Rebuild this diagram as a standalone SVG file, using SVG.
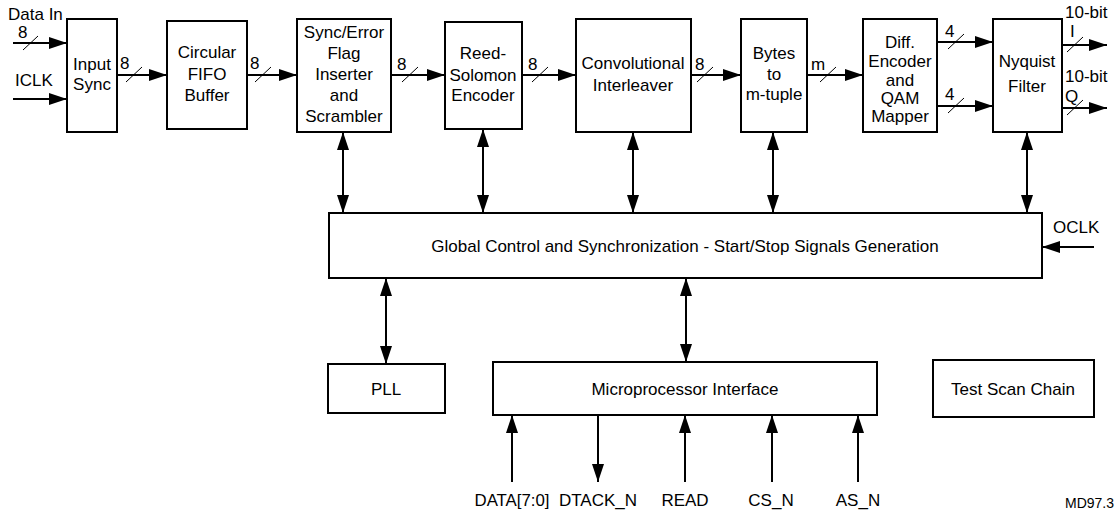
<svg xmlns="http://www.w3.org/2000/svg" width="1118" height="513" viewBox="0 0 1118 513">
<defs>
<marker id="ah" markerUnits="userSpaceOnUse" markerWidth="18" markerHeight="12" refX="18" refY="6" orient="auto-start-reverse">
<path d="M0,0 L18,6 L0,12 z" fill="#000"/>
</marker>
<style>
.box{fill:#fff;stroke:#000;stroke-width:2}
.t{font-family:"Liberation Sans",Arial,sans-serif;font-size:17px;fill:#000;text-anchor:middle}
.l{font-family:"Liberation Sans",Arial,sans-serif;font-size:17px;fill:#000}
.w{stroke:#000;stroke-width:2;fill:none}
.a{stroke:#000;stroke-width:2;fill:none;marker-end:url(#ah)}
.d{stroke:#000;stroke-width:2;fill:none;marker-start:url(#ah);marker-end:url(#ah)}
.s{stroke:#000;stroke-width:1;fill:none}
</style>
</defs>
<rect width="1118" height="513" fill="#fff"/>

<g id="connectors">
<!-- inputs -->
<line class="a" x1="13" y1="43" x2="67" y2="43"/>
<line class="s" x1="23" y1="50" x2="38" y2="36"/>
<line class="a" x1="13" y1="99" x2="67" y2="99"/>
<!-- data path -->
<line class="a" x1="117" y1="75" x2="167" y2="75"/>
<line class="s" x1="126" y1="82" x2="142" y2="67"/>
<line class="a" x1="247" y1="75" x2="297" y2="75"/>
<line class="s" x1="255" y1="82" x2="271" y2="67"/>
<line class="a" x1="391" y1="75" x2="445" y2="75"/>
<line class="s" x1="402" y1="82" x2="418" y2="67"/>
<line class="a" x1="522" y1="75" x2="576" y2="75"/>
<line class="s" x1="532" y1="82" x2="548" y2="67"/>
<line class="a" x1="691" y1="75" x2="741" y2="75"/>
<line class="s" x1="697" y1="82" x2="713" y2="67"/>
<line class="a" x1="807" y1="75" x2="863" y2="75"/>
<line class="s" x1="820" y1="82" x2="836" y2="67"/>
<line class="a" x1="937" y1="42" x2="993" y2="42"/>
<line class="s" x1="948" y1="49" x2="964" y2="34"/>
<line class="a" x1="937" y1="106" x2="993" y2="106"/>
<line class="s" x1="948" y1="113" x2="964" y2="98"/>
<line class="a" x1="1062" y1="45" x2="1107" y2="45"/>
<line class="s" x1="1067" y1="52" x2="1083" y2="37"/>
<line class="a" x1="1062" y1="108" x2="1107" y2="108"/>
<line class="s" x1="1067" y1="115" x2="1083" y2="100"/>
<!-- control bus -->
<line class="d" x1="343" y1="132" x2="343" y2="213"/>
<line class="d" x1="483" y1="129" x2="483" y2="213"/>
<line class="d" x1="633" y1="132" x2="633" y2="213"/>
<line class="d" x1="773" y1="132" x2="773" y2="213"/>
<line class="d" x1="1027" y1="132" x2="1027" y2="213"/>
<line class="a" x1="1094" y1="247" x2="1042" y2="247"/>
<line class="d" x1="386" y1="278" x2="386" y2="364"/>
<line class="d" x1="686" y1="278" x2="686" y2="362"/>
<!-- microprocessor pins -->
<line class="a" x1="512" y1="482" x2="512" y2="415"/>
<line class="a" x1="598" y1="415" x2="598" y2="482"/>
<line class="a" x1="685" y1="482" x2="685" y2="415"/>
<line class="a" x1="772" y1="482" x2="772" y2="415"/>
<line class="a" x1="858" y1="482" x2="858" y2="415"/>
<!-- labels -->
<text class="l" x="8" y="20">Data In</text>
<text class="l" x="18" y="38">8</text>
<text class="l" x="15" y="86">ICLK</text>
<text class="l" x="120" y="69">8</text>
<text class="l" x="250" y="69">8</text>
<text class="l" x="397" y="70">8</text>
<text class="l" x="528" y="70">8</text>
<text class="l" x="695" y="70">8</text>
<text class="l" x="811" y="70">m</text>
<text class="l" x="945" y="37">4</text>
<text class="l" x="945" y="100">4</text>
<text class="l" x="1065" y="18">10-bit</text>
<text class="l" x="1070" y="37">I</text>
<text class="l" x="1065" y="82">10-bit</text>
<text class="l" x="1065" y="102">Q</text>
<text class="l" x="1053" y="233">OCLK</text>
<text class="t" x="512" y="506" textLength="75" lengthAdjust="spacingAndGlyphs">DATA[7:0]</text>
<text class="t" x="598" y="506">DTACK_N</text>
<text class="t" x="685" y="506">READ</text>
<text class="t" x="771" y="506">CS_N</text>
<text class="t" x="858" y="506">AS_N</text>
<text class="l" x="1065" y="508" style="font-size:14px">MD97.3</text>
</g>

<g id="input-sync">
<rect class="box" x="67" y="19" width="50" height="113"/>
<text class="t" x="92" y="70">Input</text>
<text class="t" x="92" y="90">Sync</text>
</g>
<g id="fifo">
<rect class="box" x="167" y="21" width="80" height="108"/>
<text class="t" x="207" y="58">Circular</text>
<text class="t" x="207" y="80">FIFO</text>
<text class="t" x="207" y="101">Buffer</text>
</g>
<g id="sync-error">
<rect class="box" x="297" y="19" width="94" height="113"/>
<text class="t" x="344" y="38">Sync/Error</text>
<text class="t" x="344" y="59">Flag</text>
<text class="t" x="344" y="80">Inserter</text>
<text class="t" x="344" y="101">and</text>
<text class="t" x="344" y="122">Scrambler</text>
</g>
<g id="reed-solomon">
<rect class="box" x="445" y="22" width="77" height="107"/>
<text class="t" x="483" y="59">Reed-</text>
<text class="t" x="483" y="81">Solomon</text>
<text class="t" x="483" y="101">Encoder</text>
</g>
<g id="interleaver">
<rect class="box" x="576" y="19" width="115" height="113"/>
<text class="t" x="633" y="69">Convolutional</text>
<text class="t" x="633" y="91">Interleaver</text>
</g>
<g id="bytes-to-mtuple">
<rect class="box" x="741" y="19" width="66" height="113"/>
<text class="t" x="774" y="59">Bytes</text>
<text class="t" x="774" y="80">to</text>
<text class="t" x="774" y="100">m-tuple</text>
</g>
<g id="qam-mapper">
<rect class="box" x="863" y="19" width="74" height="113"/>
<text class="t" x="900" y="48">Diff.</text>
<text class="t" x="900" y="67">Encoder</text>
<text class="t" x="900" y="86">and</text>
<text class="t" x="900" y="104">QAM</text>
<text class="t" x="900" y="122">Mapper</text>
</g>
<g id="nyquist">
<rect class="box" x="993" y="19" width="69" height="113"/>
<text class="t" x="1027" y="67">Nyquist</text>
<text class="t" x="1027" y="92">Filter</text>
</g>
<g id="global-control">
<rect class="box" x="329" y="213" width="713" height="65"/>
<text class="t" x="685" y="252">Global Control and Synchronization - Start/Stop Signals Generation</text>
</g>
<g id="pll">
<rect class="box" x="328" y="364" width="117" height="49"/>
<text class="t" x="386" y="395">PLL</text>
</g>
<g id="microprocessor">
<rect class="box" x="493" y="362" width="384" height="53"/>
<text class="t" x="685" y="395">Microprocessor Interface</text>
</g>
<g id="test-scan">
<rect class="box" x="933" y="360" width="161" height="57"/>
<text class="t" x="1013" y="395">Test Scan Chain</text>
</g>
</svg>
